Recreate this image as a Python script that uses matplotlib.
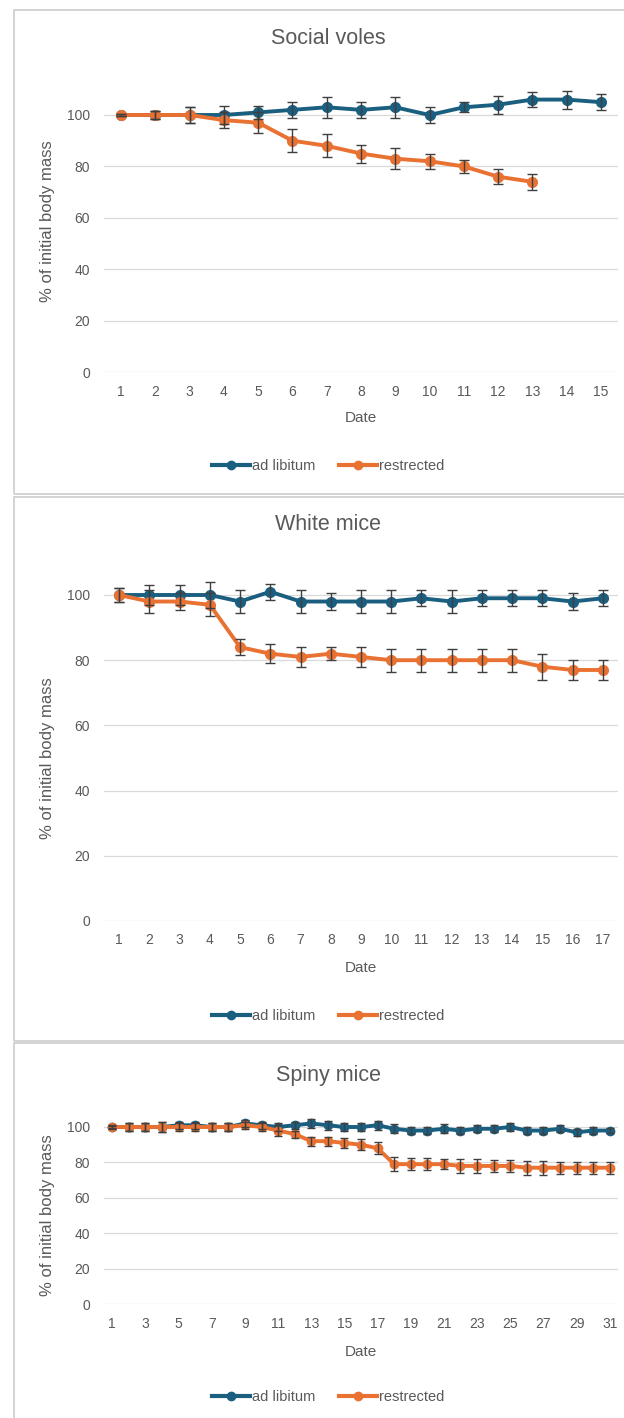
import matplotlib
matplotlib.use("Agg")
import matplotlib.pyplot as plt
from matplotlib.patches import Rectangle
from matplotlib.lines import Line2D

plt.rcParams['font.family'] = ['Liberation Sans', 'DejaVu Sans']

BLUE = '#1B5F80'
ORANGE = '#E97132'
TEXT = '#595959'
GRID = '#D9D9D9'
ERR = '#3F3F3F'

# ---------------- data ----------------
voles_days = list(range(1, 16))
voles_adlib = [100, 100, 100, 100, 101, 102, 103, 102, 103, 100, 103, 104, 106, 106, 105]
voles_adlib_err = [0.5, 1.5, 3, 3.5, 2.5, 3, 4, 3, 4, 3, 2, 3.5, 3, 3.5, 3]
voles_restr_days = list(range(1, 14))
voles_restr = [100, 100, 100, 98, 97, 90, 88, 85, 83, 82, 80, 76, 74]
voles_restr_err = [0.5, 1.5, 3, 3, 4, 4.5, 4.5, 3.5, 4, 3, 2.5, 3, 3]

white_days = list(range(1, 18))
white_adlib = [100, 100, 100, 100, 98, 101, 98, 98, 98, 98, 99, 98, 99, 99, 99, 98, 99]
white_adlib_err = [2, 3, 3, 4, 3.5, 2.5, 3.5, 2.5, 3.5, 3.5, 2.5, 3.5, 2.5, 2.5, 2.5, 2.5, 2.5]
white_restr = [100, 98, 98, 97, 84, 82, 81, 82, 81, 80, 80, 80, 80, 80, 78, 77, 77]
white_restr_err = [2, 3.5, 2.5, 3.5, 2.5, 3, 3, 2, 3, 3.5, 3.5, 3.5, 3.5, 3.5, 4, 3, 3]

spiny_days = list(range(1, 32))
spiny_adlib = [100, 100, 100, 100, 101, 101, 100, 100, 102, 101, 100, 101, 102, 101, 100,
               100, 101, 99, 98, 98, 99, 98, 99, 99, 100, 98, 98, 99, 97, 98, 98]
spiny_adlib_err = [1, 2, 2, 3, 2, 2, 2, 2, 2, 2, 2, 2, 2.5, 2.5, 2.5,
                   2.5, 2.5, 2.5, 2, 2, 2.5, 2, 2, 2, 2, 2, 2, 2, 2, 2, 1.5]
spiny_restr = [100, 100, 100, 100, 100, 100, 100, 100, 101, 100, 98, 96, 92, 92, 91,
               90, 88, 79, 79, 79, 79, 78, 78, 78, 78, 77, 77, 77, 77, 77, 77]
spiny_restr_err = [0.5, 2, 2, 3, 2, 2, 2, 2, 2, 2, 3, 2, 2.5, 2.5, 3,
                   3, 3.5, 4, 3.5, 3.5, 3, 4, 4, 3.5, 3.5, 4, 4, 3.5, 3.5, 3.5, 3.5]

titles = ['Social voles', 'White mice', 'Spiny mice']
series_labels = ['ad libitum', 'restrected']
y_ticks = [0, 20, 40, 60, 80, 100]

# ---------------- layout (pixels) ----------------
W, H = 624, 1418
DPI = 100
fig = plt.figure(figsize=(W / DPI, H / DPI), dpi=DPI)
fig.patch.set_facecolor('white')


def fx(px):
    return px / W


def fy(py):
    return 1 - py / H


# panel boxes: (top, bottom)
boxes = [(10, 494), (497, 1041), (1043, 1430)]
for top, bot in boxes:
    fig.add_artist(Rectangle((fx(14), fy(bot)), fx(640) - fx(14), fy(top) - fy(bot),
                             transform=fig.transFigure, fill=False,
                             edgecolor='#D0D0D0', lw=1.3))

YMAX = 112
panels = [
    dict(zero=372, per=2.57, title=39, date=418, leg=466,
         days=voles_days, a=voles_adlib, ae=voles_adlib_err,
         rd=voles_restr_days, r=voles_restr, re=voles_restr_err, step=1, ylab=221),
    dict(zero=921, per=3.26, title=524, date=968, leg=1016,
         days=white_days, a=white_adlib, ae=white_adlib_err,
         rd=white_days, r=white_restr, re=white_restr_err, step=1, ylab=758),
    dict(zero=1304, per=1.77, title=1076, date=1352, leg=1397,
         days=spiny_days, a=spiny_adlib, ae=spiny_adlib_err,
         rd=spiny_days, r=spiny_restr, re=spiny_restr_err, step=2, ylab=1215),
]

LEFT, RIGHT = 104, 618
for i, p in enumerate(panels):
    top_px = p['zero'] - YMAX * p['per']
    ax = fig.add_axes([fx(LEFT), fy(p['zero']), fx(RIGHT) - fx(LEFT), fy(top_px) - fy(p['zero'])])
    ax.set_facecolor('none')
    n = len(p['days'])
    ax.set_xlim(0.5, n + 0.5)
    ax.set_ylim(0, YMAX)
    ax.set_yticks(y_ticks)
    ax.set_xticks(p['days'][::p['step']])
    ax.tick_params(length=0, labelsize=10, labelcolor=TEXT, pad=9)
    ax.tick_params(axis='y', pad=10)
    for s in ax.spines.values():
        s.set_visible(False)
    ax.grid(axis='y', color=GRID, lw=0.9)
    ax.set_axisbelow(True)

    ms = 7 if p['step'] == 1 else 6
    cap = 3.5 if p['step'] == 1 else 3
    for d, v, e, c in [(p['days'], p['a'], p['ae'], BLUE), (p['rd'], p['r'], p['re'], ORANGE)]:
        ax.plot(d, v, color=c, lw=2.8, marker='o', ms=ms, zorder=3,
                solid_capstyle='round')
        ax.errorbar(d, v, yerr=e, fmt='none', ecolor=ERR, elinewidth=1.0,
                    capsize=cap, capthick=1.0, zorder=4)

    fig.text(fx(328), fy(p['title']), titles[i], ha='center', va='center',
             fontsize=15.5, color=TEXT)
    fig.text(fx(361), fy(p['date']), 'Date', ha='center', va='center',
             fontsize=11, color=TEXT)
    fig.text(fx(48), fy(p['ylab']), '% of initial body mass', ha='center', va='center',
             rotation=90, fontsize=12, color=TEXT)

    handles = [Line2D([], [], color=BLUE, lw=3, marker='o', ms=6),
               Line2D([], [], color=ORANGE, lw=3, marker='o', ms=6)]
    fig.legend(handles, series_labels, loc='center', bbox_to_anchor=(fx(328), fy(p['leg'])),
               ncol=2, frameon=False, fontsize=10.5, labelcolor=TEXT,
               handlelength=2.6, handletextpad=0.15, columnspacing=1.6)

fig.savefig('out.png', dpi=DPI, facecolor='white')
